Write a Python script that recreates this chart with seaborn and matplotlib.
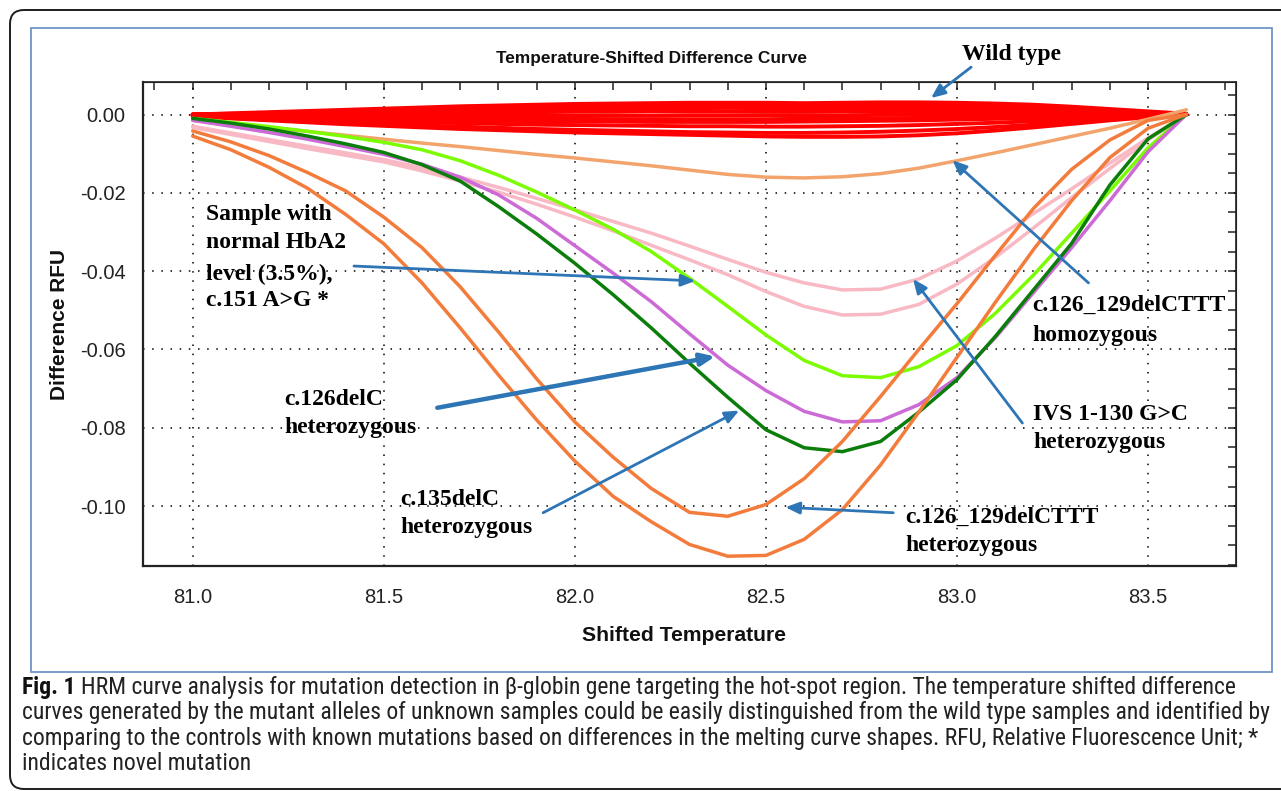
import matplotlib
matplotlib.use("Agg")
import matplotlib.pyplot as plt
from matplotlib import font_manager as fm
from matplotlib.patches import Rectangle, FancyBboxPatch
from matplotlib.ticker import MultipleLocator, FormatStrFormatter, NullFormatter
import pandas as pd
import seaborn as sns

W, H = 1281, 791

# shifted temperature grid (deg C)
temps = [81.0, 81.1, 81.2, 81.3, 81.4, 81.5, 81.6, 81.7, 81.8, 81.9,
         82.0, 82.1, 82.2, 82.3, 82.4, 82.5, 82.6, 82.7, 82.8, 82.9,
         83.0, 83.1, 83.2, 83.3, 83.4, 83.5, 83.6]

# wild type samples (red band)
wild_type = [
    [0.0000, 0.0003, 0.0006, 0.0009, 0.0012, 0.0015, 0.0018, 0.0021, 0.0023, 0.0025, 0.0027, 0.0028, 0.0029, 0.0030,
     0.0030, 0.0030, 0.0029, 0.0030, 0.0031, 0.0031, 0.0030, 0.0028, 0.0025, 0.0020, 0.0014, 0.0008, 0.0002],
    [0.0000, 0.0002, 0.0004, 0.0007, 0.0009, 0.0012, 0.0014, 0.0016, 0.0018, 0.0020, 0.0021, 0.0022, 0.0023, 0.0024,
     0.0024, 0.0023, 0.0022, 0.0023, 0.0024, 0.0023, 0.0022, 0.0020, 0.0017, 0.0013, 0.0009, 0.0005, 0.0001],
    [0.0000, 0.0001, 0.0003, 0.0004, 0.0006, 0.0007, 0.0009, 0.0010, 0.0012, 0.0013, 0.0014, 0.0015, 0.0016, 0.0016,
     0.0017, 0.0016, 0.0015, 0.0015, 0.0016, 0.0015, 0.0014, 0.0013, 0.0011, 0.0008, 0.0006, 0.0003, 0.0000],
    [0.0000, 0.0001, 0.0001, 0.0002, 0.0003, 0.0003, 0.0004, 0.0005, 0.0005, 0.0006, 0.0007, 0.0007, 0.0008, 0.0008,
     0.0008, 0.0007, 0.0007, 0.0008, 0.0008, 0.0007, 0.0007, 0.0006, 0.0005, 0.0004, 0.0002, 0.0001, 0.0000],
    [0.0000, -0.0001, -0.0001, -0.0002, -0.0002, -0.0002, -0.0003, -0.0003, -0.0003, -0.0003, -0.0003, -0.0003, -0.0003,
     -0.0002, -0.0002, -0.0002, -0.0002, -0.0002, -0.0001, -0.0001, -0.0001, -0.0001, -0.0001, 0.0000, 0.0000, 0.0000, 0.0000],
    [0.0000, -0.0002, -0.0003, -0.0005, -0.0006, -0.0007, -0.0008, -0.0009, -0.0010, -0.0011, -0.0011, -0.0012, -0.0012,
     -0.0012, -0.0012, -0.0012, -0.0011, -0.0011, -0.0010, -0.0009, -0.0008, -0.0007, -0.0005, -0.0004, -0.0002, -0.0001, 0.0000],
    [0.0000, -0.0002, -0.0005, -0.0007, -0.0009, -0.0011, -0.0013, -0.0014, -0.0016, -0.0017, -0.0018, -0.0018, -0.0019,
     -0.0019, -0.0019, -0.0019, -0.0018, -0.0017, -0.0016, -0.0015, -0.0013, -0.0011, -0.0009, -0.0006, -0.0004, -0.0002, 0.0000],
    [-0.0003, -0.0006, -0.0009, -0.0012, -0.0015, -0.0018, -0.0020, -0.0022, -0.0024, -0.0026, -0.0027, -0.0028, -0.0029,
     -0.0030, -0.0030, -0.0031, -0.0031, -0.0030, -0.0029, -0.0027, -0.0024, -0.0021, -0.0017, -0.0013, -0.0008, -0.0004, 0.0000],
    [-0.0004, -0.0009, -0.0013, -0.0017, -0.0021, -0.0025, -0.0028, -0.0031, -0.0034, -0.0037, -0.0039, -0.0041, -0.0043,
     -0.0045, -0.0046, -0.0047, -0.0047, -0.0046, -0.0044, -0.0041, -0.0037, -0.0032, -0.0026, -0.0019, -0.0012, -0.0005, 0.0000],
    [-0.0005, -0.0010, -0.0015, -0.0020, -0.0025, -0.0029, -0.0033, -0.0037, -0.0040, -0.0043, -0.0046, -0.0048, -0.0050,
     -0.0052, -0.0054, -0.0056, -0.0057, -0.0057, -0.0056, -0.0053, -0.0048, -0.0041, -0.0033, -0.0024, -0.0015, -0.0007, 0.0000],
]

# mutant / control samples
delcttt_hom = [-0.0015, -0.0025, -0.0033, -0.0043, -0.0053, -0.0063, -0.0073, -0.0082, -0.0092, -0.0102, -0.0111,
               -0.0121, -0.0131, -0.0142, -0.0153, -0.0160, -0.0162, -0.0159, -0.0151, -0.0137, -0.0118, -0.0098,
               -0.0077, -0.0056, -0.0035, -0.0012, 0.0012]
ivs_a = [-0.0030, -0.0047, -0.0064, -0.0081, -0.0098, -0.0115, -0.0136, -0.0160, -0.0186, -0.0214, -0.0243, -0.0273,
         -0.0303, -0.0336, -0.0370, -0.0403, -0.0430, -0.0448, -0.0446, -0.0420, -0.0374, -0.0316, -0.0253, -0.0190,
         -0.0124, -0.0060, 0.0]
ivs_b = [-0.0033, -0.0051, -0.0069, -0.0087, -0.0104, -0.0121, -0.0144, -0.0170, -0.0198, -0.0229, -0.0262, -0.0297,
         -0.0334, -0.0371, -0.0409, -0.0452, -0.0490, -0.0512, -0.0510, -0.0485, -0.0433, -0.0365, -0.0290, -0.0212,
         -0.0138, -0.0065, 0.0]
c151 = [-0.0010, -0.0020, -0.0031, -0.0043, -0.0056, -0.0071, -0.0090, -0.0118, -0.0155, -0.0198, -0.0244, -0.0293,
        -0.0350, -0.0418, -0.0490, -0.0563, -0.0628, -0.0667, -0.0672, -0.0644, -0.0590, -0.0508, -0.0410, -0.0303,
        -0.0195, -0.0085, 0.0]
c126 = [-0.0015, -0.0030, -0.0046, -0.0063, -0.0082, -0.0102, -0.0127, -0.0160, -0.0205, -0.0265, -0.0335, -0.0405,
        -0.0478, -0.0560, -0.0640, -0.0705, -0.0758, -0.0785, -0.0782, -0.0741, -0.0672, -0.0570, -0.0455, -0.0340,
        -0.0220, -0.0095, 0.0]
c135 = [-0.0010, -0.0022, -0.0037, -0.0055, -0.0075, -0.0097, -0.0128, -0.0170, -0.0235, -0.0305, -0.0380, -0.0460,
        -0.0545, -0.0635, -0.0722, -0.0805, -0.0851, -0.0861, -0.0835, -0.0760, -0.0677, -0.0567, -0.0448, -0.0329,
        -0.0180, -0.0062, 0.0]
delcttt_het_a = [-0.0042, -0.0070, -0.0105, -0.0148, -0.0195, -0.0262, -0.0340, -0.0440, -0.0555, -0.0675, -0.0785,
                 -0.0875, -0.0955, -0.1016, -0.1026, -0.0996, -0.0930, -0.0835, -0.0720, -0.0600, -0.0483, -0.0360,
                 -0.0240, -0.0140, -0.0065, -0.0015, 0.0]
delcttt_het_b = [-0.0055, -0.0090, -0.0135, -0.0188, -0.0255, -0.0330, -0.0430, -0.0545, -0.0665, -0.0780, -0.0885,
                 -0.0975, -0.1040, -0.1098, -0.1128, -0.1126, -0.1085, -0.1009, -0.0895, -0.0760, -0.0620, -0.0480,
                 -0.0345, -0.0220, -0.0110, -0.0035, 0.0]

mutant_names = ["c.126_129delCTTT hom", "IVS a", "IVS b", "c.151 A>G", "c.126delC", "c.135delC",
                "c.126_129delCTTT het a", "c.126_129delCTTT het b"]
mutant_curves = [delcttt_hom, ivs_a, ivs_b, c151, c126, c135, delcttt_het_a, delcttt_het_b]
mutant_colors = ["#F3A46C", "#F8B8C4", "#F8B8C4", "#7CFC00", "#CC6AD6", "#0A7D0A", "#F37C3C", "#F37C3C"]

xticks = [81.0, 81.5, 82.0, 82.5, 83.0, 83.5]
yticks = [0.00, -0.02, -0.04, -0.06, -0.08, -0.10]

caption_lines = [
    "HRM curve analysis for mutation detection in \u03b2-globin gene targeting the hot-spot region. The temperature shifted difference",
    "curves generated by the mutant alleles of unknown samples could be easily distinguished from the wild type samples and identified by",
    "comparing to the controls with known mutations based on differences in the melting curve shapes. RFU, Relative Fluorescence Unit; *",
    "indicates novel mutation",
]

BLUE = "#2E75B6"

sns.set_style("white")
plt.rcParams["axes.unicode_minus"] = False

# look for a narrow / condensed sans face; fall back to Liberation Sans
narrow = None
for f in fm.fontManager.ttflist:
    if f.name in ("Liberation Sans Narrow", "Arial Narrow"):
        narrow = (f.name, "normal")
        break
if narrow is None:
    for f in fm.fontManager.ttflist:
        if f.name in ("Roboto Condensed", "Open Sans Condensed", "DejaVu Sans Condensed", "Noto Sans Condensed"):
            narrow = (f.name, "normal")
            break
if narrow is None:
    for f in fm.fontManager.ttflist:
        if f.name in ("Roboto", "Open Sans", "Noto Sans", "DejaVu Sans") and f.stretch in ("condensed", "semi-condensed", 75, 87):
            narrow = (f.name, "condensed")
            break

sans = "Liberation Sans"
plt.rcParams["font.family"] = [sans, "DejaVu Sans"]
cap_font = dict(family=[narrow[0], "DejaVu Sans"], stretch=narrow[1]) if narrow else dict(family=[sans, "DejaVu Sans"])

fig = plt.figure(figsize=(W / 100, H / 100), dpi=100)

# background layer in pixel coordinates (frames, title, caption)
bg = fig.add_axes([0, 0, 1, 1], zorder=0)
bg.set_xlim(0, W)
bg.set_ylim(H, 0)
bg.axis("off")
bg.add_patch(FancyBboxPatch((10, 10), W + 20, 779, boxstyle="round,pad=0,rounding_size=14",
                            fill=False, ec="#1e1e1e", lw=1.4))
bg.add_patch(Rectangle((31, 28), 1241, 644, fill=False, ec="#6D94C6", lw=1.3))
bg.text(651.5, 57, "Temperature-Shifted Difference Curve", ha="center", va="center_baseline",
        fontsize=12.4, fontweight="bold", color="#111111")

# main plot
ax = fig.add_axes([143 / W, 1 - 566 / H, 1093 / W, 484 / H], zorder=2)

wt_df = pd.DataFrame([(f"wt{i}", t, v) for i, curve in enumerate(wild_type) for t, v in zip(temps, curve)],
                     columns=["sample", "temp", "rfu"])
mut_df = pd.DataFrame([(n, t, v) for n, curve in zip(mutant_names, mutant_curves) for t, v in zip(temps, curve)],
                      columns=["sample", "temp", "rfu"])

sns.lineplot(data=wt_df, x="temp", y="rfu", units="sample", estimator=None, color="#FF0000",
             lw=2.8, ax=ax, legend=False, zorder=3)
sns.lineplot(data=mut_df, x="temp", y="rfu", hue="sample", hue_order=mutant_names, units="sample",
             estimator=None, palette=dict(zip(mutant_names, mutant_colors)), lw=2.5, ax=ax,
             legend=False, zorder=4)

ax.set_xlim(80.87, 83.73)
ax.set_ylim(-0.1153, 0.0083)
ax.set_xticks(xticks)
ax.set_yticks(yticks)
ax.xaxis.set_minor_locator(MultipleLocator(0.1))
ax.yaxis.set_minor_locator(MultipleLocator(0.005))
ax.xaxis.set_major_formatter(FormatStrFormatter("%.1f"))
ax.yaxis.set_major_formatter(FormatStrFormatter("%.2f"))
ax.tick_params(which="major", direction="inout", length=13, width=1.2, color="#222222",
               labelsize=14.5, labelcolor="#222222")
ax.tick_params(axis="x", which="major", pad=9.0)
ax.tick_params(axis="y", which="major", pad=6.0)
ax.tick_params(which="minor", direction="inout", length=6, width=1.1, color="#222222")
ax.grid(True, which="major", color="black", linestyle=(0, (1, 5)), linewidth=1.1)
ax.set_axisbelow(True)
for side in ["left", "bottom"]:
    ax.spines[side].set_linewidth(1.6)
    ax.spines[side].set_color("#222222")
for side in ["top", "right"]:
    ax.spines[side].set_linewidth(1.2)
    ax.spines[side].set_color("#222222")

top = ax.secondary_xaxis("top")
top.set_xticks(xticks)
top.xaxis.set_minor_locator(MultipleLocator(0.1))
top.xaxis.set_major_formatter(NullFormatter())
top.tick_params(which="both", direction="in", length=6, width=1.1, color="#222222")
right = ax.secondary_yaxis("right")
right.set_yticks(yticks)
right.yaxis.set_minor_locator(MultipleLocator(0.005))
right.yaxis.set_major_formatter(NullFormatter())
right.tick_params(which="both", direction="in", length=6, width=1.1, color="#222222")

ax.set_xlabel("Shifted Temperature", fontsize=15.2, fontweight="bold", color="#111111")
ax.set_ylabel("Difference RFU", fontsize=15.0, fontweight="bold", color="#111111")
ax.xaxis.set_label_coords(0.4947, -0.124)
ax.yaxis.set_label_coords(-0.068, 0.5)

# annotations
note = dict(fontsize=17, fontweight="bold", family=["Liberation Serif", "DejaVu Serif"], color="black",
            ha="left", va="center_baseline", zorder=6, clip_on=False)


def label(x, ys, lines):
    for y, s in zip(ys, lines):
        ax.text(x, y, s, **note)


def arrow(tail, head, lw=2.0):
    ax.annotate("", xy=head, xytext=tail, annotation_clip=False, zorder=7,
                arrowprops=dict(arrowstyle="-|>,head_length=0.7,head_width=0.3", color=BLUE, lw=lw,
                                shrinkA=0, shrinkB=0, mutation_scale=12))


label(83.014, [0.0159], ["Wild type"])
label(81.035, [-0.0249, -0.0321, -0.0402, -0.0469],
      ["Sample with", "normal HbA2", "level (3.5%),", "c.151 A>G *"])
label(81.239, [-0.0721, -0.0793], ["c.126delC", "heterozygous"])
label(81.543, [-0.0976, -0.1048], ["c.135delC", "heterozygous"])
label(83.197, [-0.0481, -0.0558], ["c.126_129delCTTT", "homozygous"])
label(83.200, [-0.0759, -0.0831], ["IVS 1-130 G>C", "heterozygous"])
label(82.865, [-0.1022, -0.1094], ["c.126_129delCTTT", "heterozygous"])

arrow((83.037, 0.0121), (82.932, 0.0042))
arrow((81.422, -0.0387), (82.315, -0.0425))
arrow((81.640, -0.0749), (82.367, -0.0618), lw=3.2)
arrow((81.917, -0.1017), (82.430, -0.0756))
arrow((83.344, -0.0430), (82.988, -0.0117))
arrow((83.171, -0.0788), (82.885, -0.0420))
arrow((82.833, -0.1017), (82.551, -0.1003))

# caption, sized so the full-width line spans the frame
fig.canvas.draw()
rend = fig.canvas.get_renderer()
probe = bg.text(0, 0, caption_lines[1], fontsize=10, **cap_font)
cap_size = 10 * 1241 / probe.get_window_extent(rend).width
probe.remove()

baselines = [694, 719.5, 745, 770.5]
fig_lbl = bg.text(22, baselines[0], "Fig. 1", fontsize=cap_size, fontweight="bold", va="baseline",
                  color="#111111", **cap_font)
fw = fig_lbl.get_window_extent(rend).width
bg.text(22 + fw + cap_size * 0.32, baselines[0], caption_lines[0], fontsize=cap_size, va="baseline",
        color="#222222", **cap_font)
for y, s in zip(baselines[1:], caption_lines[1:]):
    bg.text(22, y, s, fontsize=cap_size, va="baseline", color="#222222", **cap_font)

fig.savefig("out.png", dpi=100)
